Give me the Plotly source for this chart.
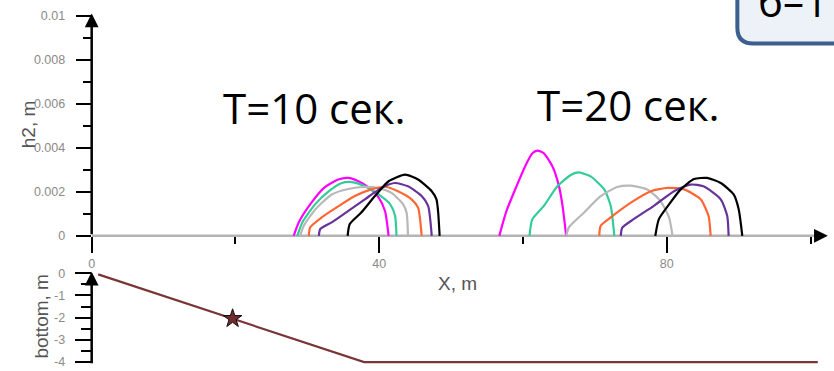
import plotly.graph_objects as go

# ---- wave profiles h2(x) at T = 10 s ----
t10_magenta_x = [28.1, 28.8, 30.6, 32.4, 34.3, 35.7, 37.1, 38.5, 39.9, 40.8, 41.3]
t10_magenta_y = [0, 0.00061, 0.00152, 0.0022, 0.00256, 0.00263, 0.00248, 0.0022, 0.00175, 0.00113, 0]
t10_green_x = [28.6, 29.3, 31.1, 33.0, 34.8, 36.2, 38.0, 39.9, 41.5, 42.2, 42.4]
t10_green_y = [0, 0.00061, 0.00144, 0.00203, 0.0024, 0.00244, 0.00225, 0.00188, 0.00144, 0.00091, 0]
t10_gray_x = [29.0, 29.5, 31.1, 33.4, 35.7, 38.0, 39.9, 41.7, 43.3, 43.8, 44.0]
t10_gray_y = [0, 0.00046, 0.0012, 0.00188, 0.00213, 0.00222, 0.00217, 0.00195, 0.00144, 0.00106, 0]
t10_orange_x = [30.2, 30.4, 32.0, 34.4, 36.6, 38.9, 40.8, 42.6, 44.5, 45.4, 45.9]
t10_orange_y = [0, 0.00039, 0.00084, 0.00136, 0.00181, 0.00211, 0.00223, 0.00203, 0.00166, 0.00128, 0]
t10_purple_x = [31.6, 31.8, 33.4, 35.7, 38.0, 40.3, 42.2, 44.0, 45.9, 46.8, 47.3]
t10_purple_y = [0, 0.00031, 0.00061, 0.00113, 0.00166, 0.00218, 0.0024, 0.00225, 0.00181, 0.00136, 0]
t10_black_x = [35.6, 35.9, 37.5, 39.4, 41.3, 43.6, 45.4, 47.3, 47.96, 48.2, 48.4]
t10_black_y = [0, 0.00054, 0.00106, 0.00181, 0.00248, 0.00278, 0.00256, 0.00203, 0.00166, 0.00106, 0]

# ---- wave profiles h2(x) at T = 20 s ----
t20_magenta_x = [56.7, 57.7, 59.0, 60.4, 61.3, 62.0, 62.9, 64.1, 65.0, 65.5, 66.0]
t20_magenta_y = [0, 0.00113, 0.00218, 0.00323, 0.00375, 0.00387, 0.00375, 0.00315, 0.00226, 0.00136, 0]
t20_green_x = [60.9, 61.3, 62.9, 64.8, 66.7, 67.8, 69.4, 71.3, 72.2, 72.7]
t20_green_y = [0, 0.00076, 0.00136, 0.00226, 0.00278, 0.00288, 0.0027, 0.00211, 0.00136, 0]
t20_gray_x = [66.0, 66.4, 68.5, 70.8, 73.1, 75.0, 77.3, 79.1, 80.3, 80.8]
t20_gray_y = [0, 0.0004, 0.00106, 0.0018, 0.00222, 0.00228, 0.00211, 0.00159, 0.00085, 0]
t20_orange_x = [70.6, 70.8, 72.2, 75.0, 77.8, 80.1, 82.4, 84.7, 85.8, 86.1]
t20_orange_y = [0, 0.00046, 0.00084, 0.00151, 0.00203, 0.00218, 0.00211, 0.00166, 0.00091, 0]
t20_purple_x = [73.6, 73.8, 75.4, 78.2, 81.0, 83.3, 85.1, 87.5, 88.4, 88.6]
t20_purple_y = [0, 0.00037, 0.00076, 0.00136, 0.00203, 0.00233, 0.00225, 0.00166, 0.00091, 0]
t20_black_x = [78.4, 78.9, 80.5, 81.9, 83.8, 85.6, 87.5, 89.3, 90.0, 90.5]
t20_black_y = [0, 0.00076, 0.00151, 0.0021, 0.00258, 0.00263, 0.0024, 0.00188, 0.00121, 0]

# ---- bottom profile ----
bottom_x = [0.9, 37.9, 101.0]
bottom_y = [-0.05, -4.0, -4.0]
gauge_x = [19.6]
gauge_y = [-2.04]

# ---- axis ticks ----
h2_ticks = [0, 0.002, 0.004, 0.006, 0.008, 0.01]
h2_labels = ["0", "0.002", "0.004", "0.006", "0.008", "0.01"]
x_ticks = [0, 40, 80]
x_labels = ["0", "40", "80"]
x_minor = [20, 60, 100]
bottom_ticks = [0, -1, -2, -3, -4]
bottom_labels = ["0", "-1", "-2", "-3", "-4"]
bottom_minor = [-0.5, -1.5, -2.5, -3.5]

COLORS = {
    "magenta": "#ff00ff",
    "green": "#33cc99",
    "gray": "#b8b8b8",
    "orange": "#ff6633",
    "purple": "#663399",
    "black": "#000000",
}

W, H = 834, 371

fig = go.Figure()

profiles = [
    ("magenta", t10_magenta_x, t10_magenta_y), ("green", t10_green_x, t10_green_y),
    ("gray", t10_gray_x, t10_gray_y), ("orange", t10_orange_x, t10_orange_y),
    ("purple", t10_purple_x, t10_purple_y), ("black", t10_black_x, t10_black_y),
    ("magenta", t20_magenta_x, t20_magenta_y), ("green", t20_green_x, t20_green_y),
    ("gray", t20_gray_x, t20_gray_y), ("orange", t20_orange_x, t20_orange_y),
    ("purple", t20_purple_x, t20_purple_y), ("black", t20_black_x, t20_black_y),
]
for name, xs, ys in profiles:
    fig.add_trace(go.Scatter(
        x=xs, y=ys, mode="lines", xaxis="x", yaxis="y",
        line=dict(color=COLORS[name], width=2.2, shape="spline", smoothing=0.6),
        showlegend=False, hoverinfo="skip",
    ))

fig.add_trace(go.Scatter(
    x=bottom_x, y=bottom_y, mode="lines", xaxis="x2", yaxis="y2",
    line=dict(color="#7a3636", width=2.2), showlegend=False, hoverinfo="skip",
))
fig.add_trace(go.Scatter(
    x=gauge_x, y=gauge_y, mode="markers", xaxis="x2", yaxis="y2",
    marker=dict(symbol="star", size=14, color="#6e2c2c", line=dict(color="#1a0a0a", width=1)),
    showlegend=False, hoverinfo="skip",
))

tick_font = dict(family="Liberation Sans, Arial, sans-serif", size=12.5, color="#8a8a8a")
title_font = dict(family="Liberation Sans, Arial, sans-serif", size=19, color="#555555")
big_font = dict(family="Open Sans, sans-serif", size=42, color="#000000")

x_dom = [89 / W, 830 / W]
x_rng = [0, (830 - 89) / 7.215]

fig.update_layout(
    width=W, height=H,
    margin=dict(l=0, r=0, t=0, b=0),
    paper_bgcolor="white", plot_bgcolor="white",
    xaxis=dict(
        domain=x_dom, range=x_rng, anchor="free", position=(H - 237) / H,
        showline=False, showgrid=False, zeroline=False,
        tickmode="array", tickvals=x_ticks, ticktext=x_labels,
        ticks="outside", ticklen=16, tickwidth=2, tickcolor="black",
        tickfont=tick_font,
        minor=dict(tickmode="array", tickvals=x_minor, ticks="outside",
                   ticklen=7, tickwidth=2, tickcolor="black"),
    ),
    yaxis=dict(
        domain=[(H - 241.5) / H, (H - 9.5) / H], range=[-0.0002, 0.0102],
        anchor="x", showline=False, showgrid=False, zeroline=False,
        tickmode="array", tickvals=h2_ticks, ticktext=h2_labels,
        ticks="outside", ticklen=15, tickwidth=2, tickcolor="black",
        tickfont=tick_font, ticklabelstandoff=8,
        minor=dict(dtick=0.001, tick0=0, ticks="outside",
                   ticklen=8, tickwidth=2, tickcolor="black"),
    ),
    xaxis2=dict(domain=x_dom, range=x_rng, anchor="y2", visible=False),
    yaxis2=dict(
        domain=[(H - 368.4) / H, (H - 268.25) / H], range=[-4.15, 0.3],
        anchor="x2", showline=False, showgrid=False, zeroline=False,
        tickmode="array", tickvals=bottom_ticks, ticktext=bottom_labels,
        ticks="outside", ticklen=16, tickwidth=2, tickcolor="black",
        tickfont=tick_font, ticklabelstandoff=7,
        minor=dict(tickmode="array", tickvals=bottom_minor, ticks="outside",
                   ticklen=10, tickwidth=2, tickcolor="black"),
    ),
)

shapes = [
    # x-axis baseline of the wave panel
    dict(type="line", xref="x", yref="y", x0=0, y0=0, x1=100.6, y1=0,
         line=dict(color="#b4b4b4", width=2.5), layer="below"),
]

# rounded caption box in the top-right corner
xl, xr = 737 / W, 870 / W
yb, yt = 1 - 42 / H, 1.2
rx, ry = 16 / W, 16 / H
shapes.append(dict(
    type="path", xref="paper", yref="paper",
    path=f"M {xl},{yt} L {xl},{yb + ry} Q {xl},{yb} {xl + rx},{yb} L {xr},{yb} L {xr},{yt} Z",
    fillcolor="#edf1f8", line=dict(color="#3b5f8e", width=4), layer="above",
))
fig.update_layout(shapes=shapes)

arrow = dict(text="", showarrow=True, arrowhead=2, arrowsize=1.1, arrowwidth=2.5,
             arrowcolor="black", standoff=0, startstandoff=0)
annotations = [
    dict(x=0, y=0.0101, ax=0, ay=0, xref="x", yref="y", axref="x", ayref="y", **arrow),
    dict(x=102.4, y=0, ax=100.4, ay=0, xref="x", yref="y", axref="x", ayref="y", **arrow),
    dict(x=0, y=0.07, ax=0, ay=-4.12, xref="x2", yref="y2", axref="x2", ayref="y2", **arrow),
    dict(text="h2, m", textangle=-90, x=25 / W, y=1 - 124 / H, xref="paper", yref="paper",
         showarrow=False, font=title_font, xanchor="center", yanchor="middle"),
    dict(text="bottom, m", textangle=-90, x=39 / W, y=1 - 319 / H, xref="paper", yref="paper",
         showarrow=False, font=title_font, xanchor="center", yanchor="middle"),
    dict(text="X, m", x=456 / W, y=1 - 285 / H, xref="paper", yref="paper",
         showarrow=False, font=title_font, xanchor="center", yanchor="middle"),
    dict(text="T=10 сек.", x=313 / W, y=1 - 107 / H, xref="paper", yref="paper",
         showarrow=False, font=big_font, xanchor="center", yanchor="middle"),
    dict(text="T=20 сек.", x=628 / W, y=1 - 104 / H, xref="paper", yref="paper",
         showarrow=False, font=big_font, xanchor="center", yanchor="middle"),
    dict(text="б–1", x=756 / W, y=1 + 2 / H, xref="paper", yref="paper",
         showarrow=False, font=big_font, xanchor="left", yanchor="middle"),
]
fig.update_layout(annotations=annotations)

fig.write_html("out.html")
